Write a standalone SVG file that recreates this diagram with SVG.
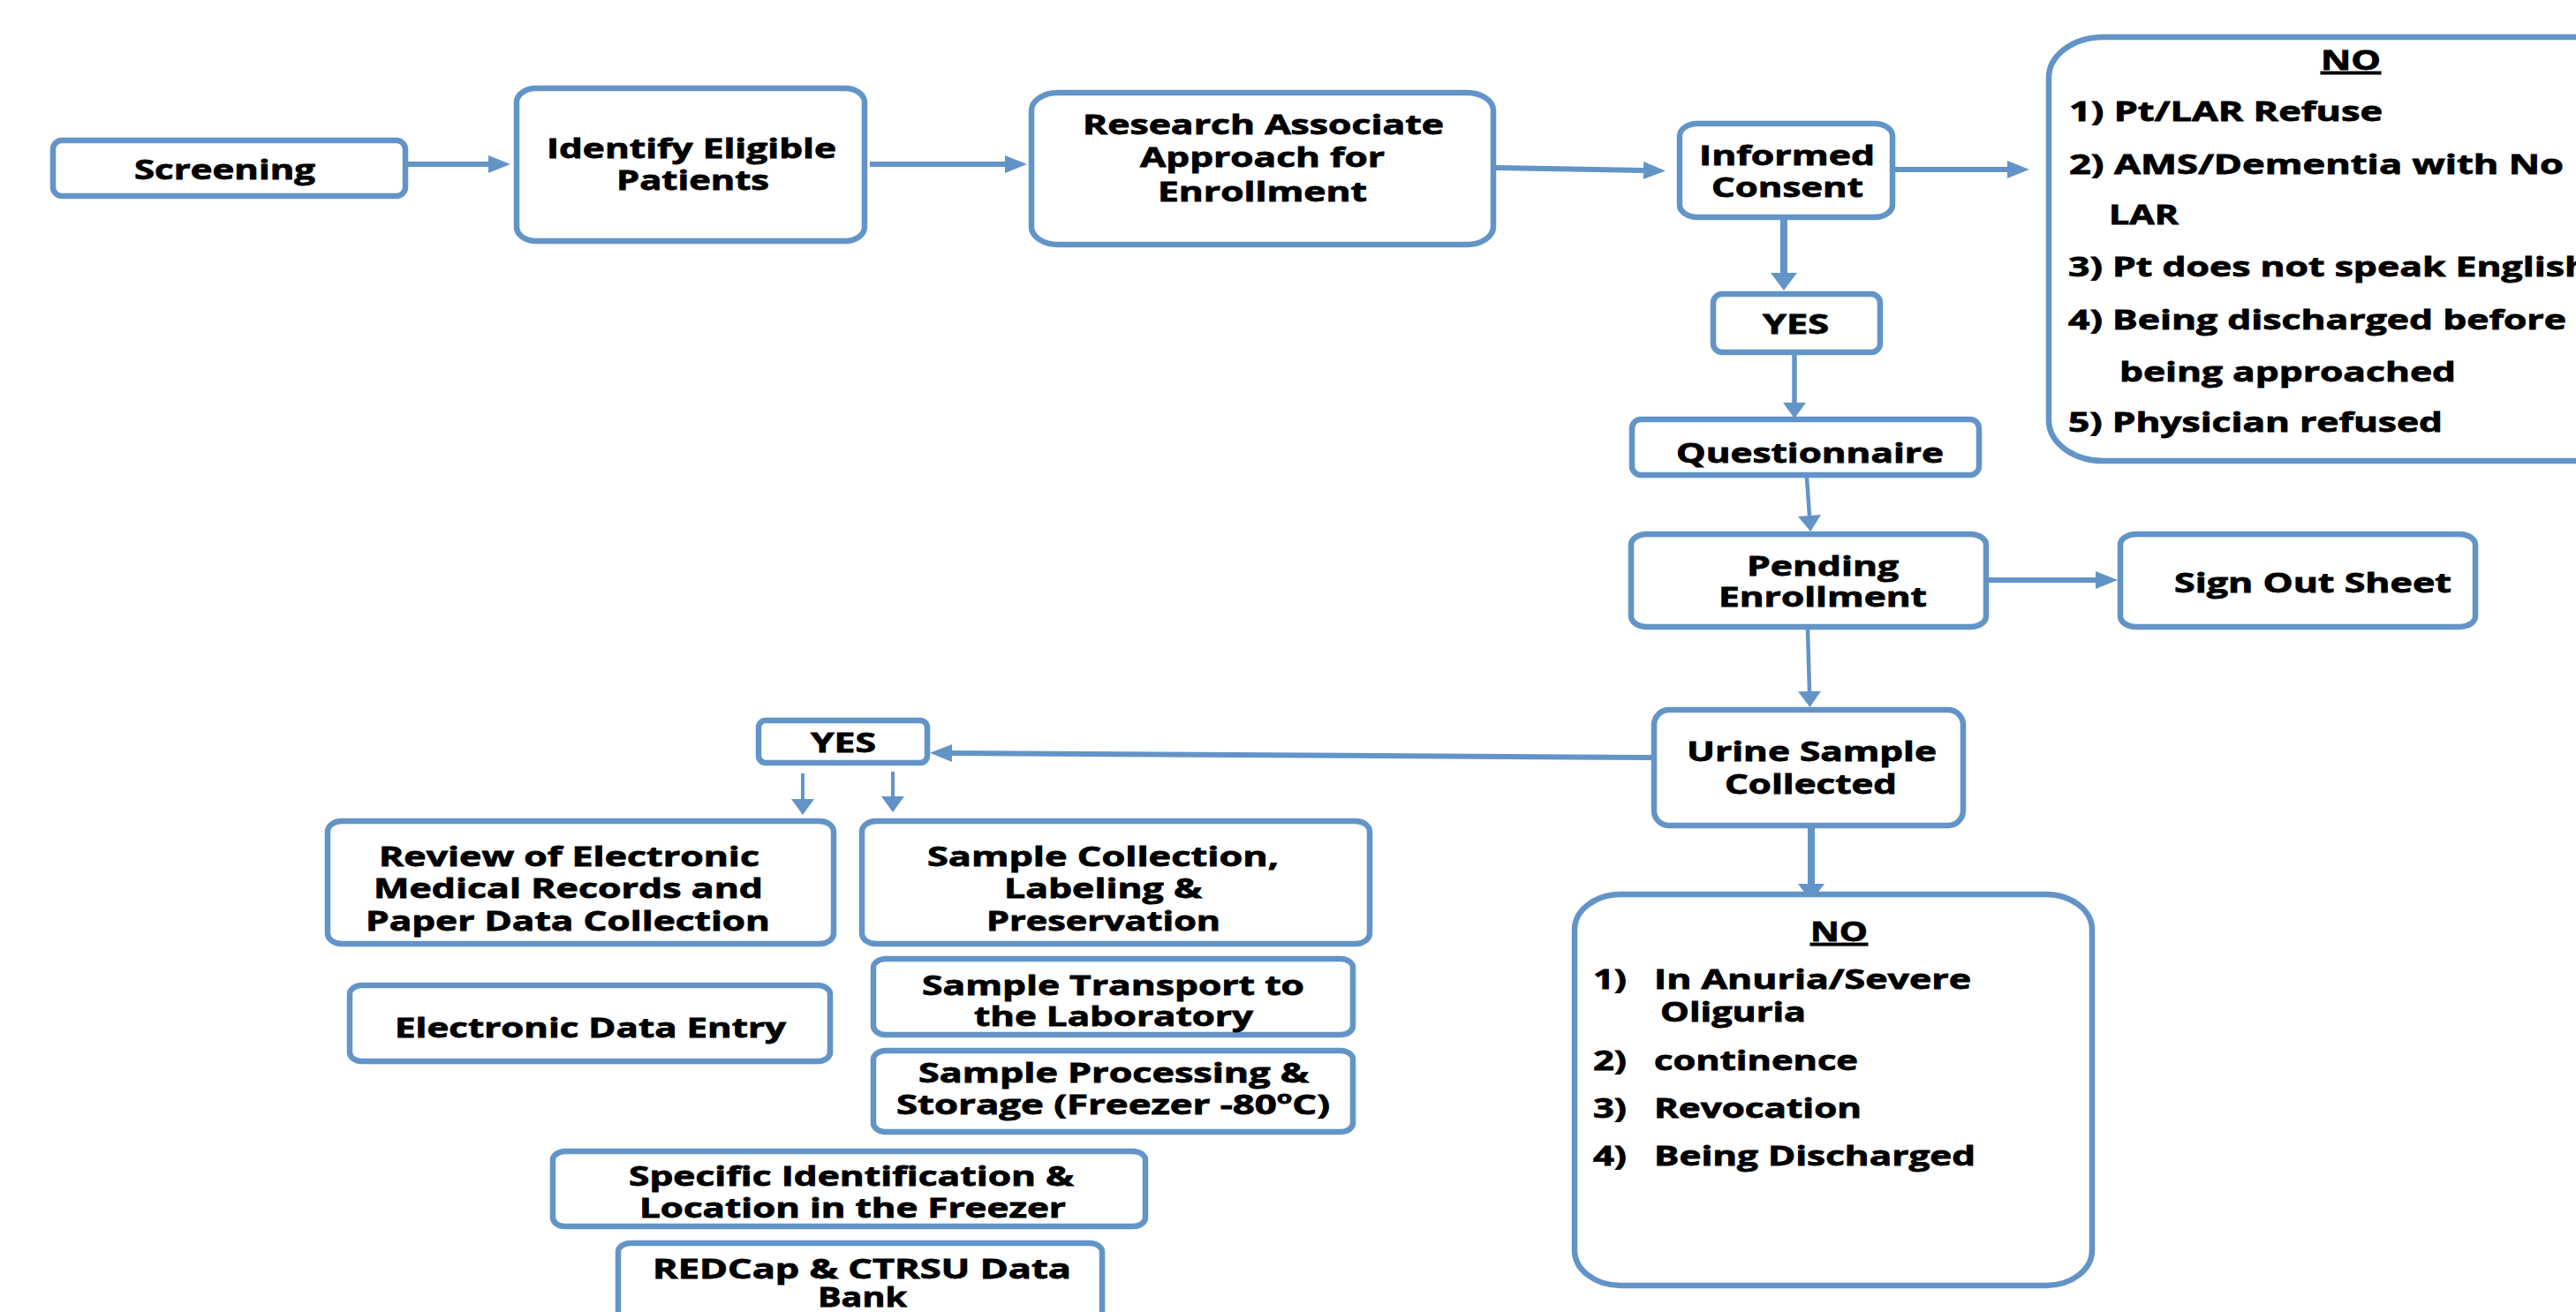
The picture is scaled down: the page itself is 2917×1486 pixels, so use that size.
<svg xmlns="http://www.w3.org/2000/svg" width="2917" height="1486" viewBox="0 0 2917 1486">
<style>
.n rect{fill:#fff;stroke:#6394C8;stroke-width:6.5}
text{font-family:"Open Sans","Lato","DejaVu Sans",sans-serif;font-weight:700;font-size:31px;fill:#000;stroke:#000;stroke-width:0.8px}
.c line{stroke:#6394C8;fill:none}
.u{text-decoration:underline}
</style>
<defs>
<marker id="mh" markerUnits="userSpaceOnUse" markerWidth="26" markerHeight="20" refX="0" refY="10" orient="auto" overflow="visible"><path d="M0,0 L25,10 L0,20 Z" fill="#6394C8"/></marker>
<marker id="mv" markerUnits="userSpaceOnUse" markerWidth="19" markerHeight="26" refX="0" refY="13" orient="auto" overflow="visible"><path d="M0,0 L18,13 L0,26 Z" fill="#6394C8"/></marker>
<marker id="mvb" markerUnits="userSpaceOnUse" markerWidth="21" markerHeight="30" refX="0" refY="15" orient="auto" overflow="visible"><path d="M0,0 L20,15 L0,30 Z" fill="#6394C8"/></marker>
</defs>
<rect width="2917" height="1486" fill="#fff"/>
<g class="c" id="connectors">
<line x1="462" y1="186" x2="553" y2="186" stroke-width="6" marker-end="url(#mh)"/>
<line x1="985" y1="186" x2="1138" y2="186" stroke-width="6" marker-end="url(#mh)"/>
<line x1="1694" y1="190" x2="1861" y2="193" stroke-width="6" marker-end="url(#mh)"/>
<line x1="2146" y1="192" x2="2273" y2="192" stroke-width="6" marker-end="url(#mh)"/>
<line x1="2020" y1="249" x2="2020" y2="309" stroke-width="8" marker-end="url(#mvb)"/>
<line x1="2032" y1="402" x2="2032" y2="456" stroke-width="5.5" marker-end="url(#mv)"/>
<line x1="2046" y1="541" x2="2049" y2="584" stroke-width="4.5" marker-end="url(#mv)"/>
<line x1="2252" y1="657" x2="2373" y2="657" stroke-width="6" marker-end="url(#mh)"/>
<line x1="2047" y1="713" x2="2049" y2="783" stroke-width="4.5" marker-end="url(#mv)"/>
<line x1="1870" y1="858" x2="1078" y2="853" stroke-width="6" marker-end="url(#mh)"/>
<line x1="909" y1="876" x2="909" y2="905" stroke-width="4" marker-end="url(#mv)"/>
<line x1="1011" y1="874" x2="1011" y2="902" stroke-width="4" marker-end="url(#mv)"/>
<line x1="2051" y1="938" x2="2051" y2="1001" stroke-width="8" marker-end="url(#mvb)"/>
</g>
<g class="n" id="screening"><rect x="60" y="159" width="399" height="63" rx="10"/>
<text x="152" y="203" font-size="33" textLength="205" lengthAdjust="spacingAndGlyphs">Screening</text></g>
<g class="n" id="identify"><rect x="585" y="100" width="394" height="173" rx="22" ry="16"/>
<text x="619" y="179" textLength="328" lengthAdjust="spacingAndGlyphs">Identify Eligible</text>
<text x="698" y="215" textLength="173" lengthAdjust="spacingAndGlyphs">Patients</text></g>
<g class="n" id="research"><rect x="1168" y="105" width="523" height="172" rx="30" ry="20"/>
<text x="1226" y="152" textLength="409" lengthAdjust="spacingAndGlyphs">Research Associate</text>
<text x="1291" y="189" textLength="277" lengthAdjust="spacingAndGlyphs">Approach for</text>
<text x="1311" y="228" textLength="237" lengthAdjust="spacingAndGlyphs">Enrollment</text></g>
<g class="n" id="informed"><rect x="1902" y="140" width="241" height="106" rx="20" ry="14"/>
<text x="1924" y="187" textLength="199" lengthAdjust="spacingAndGlyphs">Informed</text>
<text x="1938" y="223" textLength="172" lengthAdjust="spacingAndGlyphs">Consent</text></g>
<g class="n" id="no-top"><rect x="2320" y="42" width="700" height="480" rx="62" ry="46"/>
<text class="u" x="2628" y="79" textLength="68" lengthAdjust="spacingAndGlyphs">NO</text>
<text x="2343" y="137" font-size="34" textLength="355" lengthAdjust="spacingAndGlyphs">1) Pt/LAR Refuse</text>
<text x="2343" y="197" font-size="34" textLength="560" lengthAdjust="spacingAndGlyphs">2) AMS/Dementia with No</text>
<text x="2388" y="254" font-size="34" textLength="79" lengthAdjust="spacingAndGlyphs">LAR</text>
<text x="2342" y="313" font-size="34" textLength="590" lengthAdjust="spacingAndGlyphs">3) Pt does not speak English</text>
<text x="2342" y="373" font-size="34" textLength="564" lengthAdjust="spacingAndGlyphs">4) Being discharged before</text>
<text x="2400" y="432" font-size="34" textLength="381" lengthAdjust="spacingAndGlyphs">being approached</text>
<text x="2342" y="489" font-size="34" textLength="424" lengthAdjust="spacingAndGlyphs">5) Physician refused</text></g>
<g class="n" id="yes-top"><rect x="1940" y="333" width="189" height="66" rx="10"/>
<text x="1996" y="378" textLength="75" lengthAdjust="spacingAndGlyphs">YES</text></g>
<g class="n" id="questionnaire"><rect x="1848" y="475" width="393" height="63" rx="10"/>
<text x="1898" y="524" textLength="303" lengthAdjust="spacingAndGlyphs">Questionnaire</text></g>
<g class="n" id="pending"><rect x="1847" y="605" width="402" height="105" rx="18" ry="12"/>
<text x="1978" y="652" textLength="172" lengthAdjust="spacingAndGlyphs">Pending</text>
<text x="1946" y="687" textLength="236" lengthAdjust="spacingAndGlyphs">Enrollment</text></g>
<g class="n" id="signout"><rect x="2401" y="605" width="402" height="105" rx="18" ry="12"/>
<text x="2462" y="671" textLength="314" lengthAdjust="spacingAndGlyphs">Sign Out Sheet</text></g>
<g class="n" id="urine"><rect x="1873" y="804" width="350" height="131" rx="17"/>
<text x="1910" y="862" font-size="28" textLength="283" lengthAdjust="spacingAndGlyphs">Urine Sample</text>
<text x="1953" y="899" font-size="28" textLength="195" lengthAdjust="spacingAndGlyphs">Collected</text></g>
<g class="n" id="yes-bottom"><rect x="859" y="816" width="191" height="48" rx="8"/>
<text x="918" y="852" textLength="74" lengthAdjust="spacingAndGlyphs">YES</text></g>
<g class="n" id="review"><rect x="371" y="930" width="573" height="139" rx="16" ry="12"/>
<text x="429" y="981" textLength="431" lengthAdjust="spacingAndGlyphs">Review of Electronic</text>
<text x="423" y="1017" textLength="441" lengthAdjust="spacingAndGlyphs">Medical Records and</text>
<text x="414" y="1054" textLength="458" lengthAdjust="spacingAndGlyphs">Paper Data Collection</text></g>
<g class="n" id="sample-collection"><rect x="976" y="930" width="575" height="139" rx="16" ry="12"/>
<text x="1050" y="981" textLength="398" lengthAdjust="spacingAndGlyphs">Sample Collection,</text>
<text x="1137" y="1017" textLength="224" lengthAdjust="spacingAndGlyphs">Labeling &amp;</text>
<text x="1117" y="1054" textLength="265" lengthAdjust="spacingAndGlyphs">Preservation</text></g>
<g class="n" id="data-entry"><rect x="396" y="1116" width="544" height="86" rx="14" ry="10"/>
<text x="447" y="1175" textLength="443" lengthAdjust="spacingAndGlyphs">Electronic Data Entry</text></g>
<g class="n" id="transport"><rect x="989" y="1086" width="543" height="86" rx="14" ry="10"/>
<text x="1044" y="1127" textLength="433" lengthAdjust="spacingAndGlyphs">Sample Transport to</text>
<text x="1103" y="1162" textLength="316" lengthAdjust="spacingAndGlyphs">the Laboratory</text></g>
<g class="n" id="processing"><rect x="989" y="1190" width="543" height="92" rx="14" ry="10"/>
<text x="1040" y="1226" textLength="442" lengthAdjust="spacingAndGlyphs">Sample Processing &amp;</text>
<text x="1015" y="1262" textLength="491" lengthAdjust="spacingAndGlyphs">Storage (Freezer -80<tspan font-size="20" dy="-12">o</tspan><tspan dy="12">C)</tspan></text></g>
<g class="n" id="freezer-location"><rect x="626" y="1304" width="671" height="85" rx="14" ry="10"/>
<text x="712" y="1343" textLength="504" lengthAdjust="spacingAndGlyphs">Specific Identification &amp;</text>
<text x="724" y="1379" textLength="483" lengthAdjust="spacingAndGlyphs">Location in the Freezer</text></g>
<g class="n" id="redcap"><rect x="700" y="1408" width="548" height="120" rx="14" ry="10"/>
<text x="739" y="1448" textLength="474" lengthAdjust="spacingAndGlyphs">REDCap &amp; CTRSU Data</text>
<text x="926" y="1480" textLength="101" lengthAdjust="spacingAndGlyphs">Bank</text></g>
<g class="n" id="no-bottom"><rect x="1783" y="1013" width="586" height="443" rx="52" ry="40"/>
<text class="u" x="2050" y="1066" font-size="28" textLength="65" lengthAdjust="spacingAndGlyphs">NO</text>
<text x="1804" y="1120" font-size="29" textLength="38" lengthAdjust="spacingAndGlyphs">1)</text>
<text x="1873" y="1120" font-size="29" textLength="359" lengthAdjust="spacingAndGlyphs">In Anuria/Severe</text>
<text x="1880" y="1157" font-size="29" textLength="165" lengthAdjust="spacingAndGlyphs">Oliguria</text>
<text x="1804" y="1212" font-size="29" textLength="38" lengthAdjust="spacingAndGlyphs">2)</text>
<text x="1873" y="1212" font-size="29" textLength="231" lengthAdjust="spacingAndGlyphs">continence</text>
<text x="1804" y="1266" font-size="29" textLength="38" lengthAdjust="spacingAndGlyphs">3)</text>
<text x="1873" y="1266" font-size="29" textLength="235" lengthAdjust="spacingAndGlyphs">Revocation</text>
<text x="1804" y="1320" font-size="29" textLength="38" lengthAdjust="spacingAndGlyphs">4)</text>
<text x="1873" y="1320" font-size="29" textLength="364" lengthAdjust="spacingAndGlyphs">Being Discharged</text></g>
</svg>
